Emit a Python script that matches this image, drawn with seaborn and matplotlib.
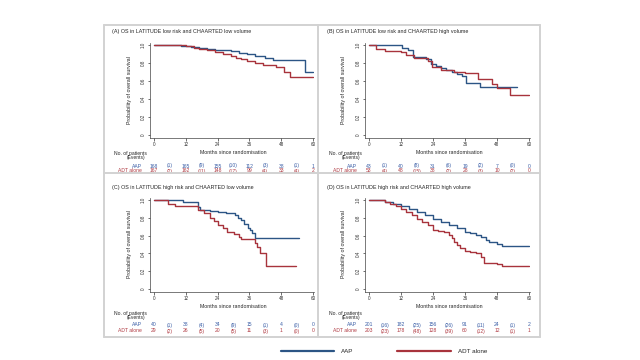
import numpy as np
import pandas as pd
import matplotlib
matplotlib.use("Agg")
import matplotlib.pyplot as plt
import matplotlib.transforms as mtransforms
from matplotlib.lines import Line2D
import seaborn as sns

# ---- survival curves (months, probability) ----
a_aap_t = [0, 6, 10, 14, 17, 20, 23, 26, 29, 32, 35, 38, 42, 45, 57, 60]
a_aap_s = [1.0, 0.998, 0.99, 0.98, 0.97, 0.96, 0.95, 0.94, 0.93, 0.915, 0.895, 0.88, 0.86, 0.835, 0.695, 0.695]
a_adt_t = [0, 6, 12, 15, 17, 20, 23, 26, 29, 31, 33, 35, 38, 41, 46, 49, 51.5, 60]
a_adt_s = [1.0, 0.995, 0.985, 0.97, 0.955, 0.94, 0.925, 0.905, 0.88, 0.86, 0.84, 0.82, 0.80, 0.775, 0.76, 0.70, 0.645, 0.645]

b_aap_t = [0, 12.5, 14.5, 16.5, 21.5, 23.4, 25, 27, 29, 31, 33, 35, 36.5, 41.5, 55.6]
b_aap_s = [1.0, 0.97, 0.94, 0.87, 0.84, 0.79, 0.77, 0.74, 0.72, 0.70, 0.68, 0.66, 0.58, 0.535, 0.535]
b_adt_t = [0, 2.8, 6, 12, 14, 17, 22, 23.5, 27, 32, 36, 41, 46, 48, 53, 60]
b_adt_s = [1.0, 0.96, 0.93, 0.92, 0.89, 0.86, 0.82, 0.76, 0.72, 0.705, 0.69, 0.62, 0.57, 0.52, 0.45, 0.45]

c_aap_t = [0, 11, 16.6, 17.2, 21, 24, 27.3, 30.4, 31.7, 33, 34, 35.5, 36.3, 37, 38, 54.7]
c_aap_s = [1.0, 0.975, 0.925, 0.89, 0.875, 0.86, 0.85, 0.83, 0.80, 0.77, 0.73, 0.69, 0.66, 0.63, 0.57, 0.57]
c_adt_t = [0, 5.3, 7.8, 16.6, 19, 21, 22.5, 24, 26, 27.5, 30, 32, 33, 38.3, 38.8, 40, 42.3, 53.7]
c_adt_s = [1.0, 0.96, 0.93, 0.89, 0.85, 0.80, 0.76, 0.72, 0.68, 0.64, 0.62, 0.58, 0.56, 0.52, 0.47, 0.40, 0.255, 0.255]

d_aap_t = [0, 3, 6, 9, 12, 15, 18, 21, 24, 27, 30, 33, 36, 38, 40, 42, 44, 45, 48, 50, 60]
d_aap_s = [1.0, 0.995, 0.98, 0.96, 0.93, 0.90, 0.87, 0.83, 0.79, 0.755, 0.72, 0.685, 0.645, 0.625, 0.61, 0.58, 0.55, 0.53, 0.505, 0.48, 0.48]
d_adt_t = [0, 3, 6, 8, 10, 12, 14, 16, 18, 20, 22, 24, 26, 28, 30, 31, 32, 33, 34, 36, 38, 40, 42, 43, 48, 50, 60]
d_adt_s = [1.0, 0.995, 0.975, 0.955, 0.93, 0.90, 0.865, 0.83, 0.79, 0.755, 0.72, 0.665, 0.65, 0.635, 0.61, 0.57, 0.53, 0.49, 0.465, 0.43, 0.415, 0.40, 0.36, 0.29, 0.28, 0.255, 0.255]

# ---- numbers at risk (months 0,12,...,60) and events in between ----
a_aap_risk = [168, 165, 155, 112, 38, 1]
a_aap_ev = [1, 9, 10, 3, 1]
a_adt_risk = [167, 162, 148, 99, 33, 2]
a_adt_ev = [2, 11, 17, 4, 4]
b_aap_risk = [43, 40, 31, 19, 7, 0]
b_aap_ev = [1, 8, 6, 2, 0]
b_adt_risk = [53, 48, 38, 28, 10, 0]
b_adt_ev = [4, 15, 2, 3, 2]
c_aap_risk = [40, 38, 34, 15, 4, 0]
c_aap_ev = [1, 4, 9, 1, 0]
c_adt_risk = [29, 26, 20, 11, 1, 0]
c_adt_ev = [2, 5, 5, 3, 0]
d_aap_risk = [201, 182, 156, 91, 24, 2]
d_aap_ev = [16, 25, 26, 11, 1]
d_adt_risk = [203, 178, 128, 60, 12, 1]
d_adt_ev = [23, 48, 39, 12, 1]

titles = ["(A) OS in LATITUDE low risk and CHAARTED low volume",
          "(B) OS in LATITUDE low risk and CHAARTED high volume",
          "(C) OS in LATITUDE high risk and CHAARTED low volume",
          "(D) OS in LATITUDE high risk and CHAARTED high volume"]
month_ticks = [0, 12, 24, 36, 48, 60]

BLUE = "#2c5585"
RED = "#a8333c"
BLUE_TXT = "#3a5ea6"
RED_TXT = "#b03a42"

W, H = 640, 360
sns.set_style("white")
plt.rcParams["font.family"] = ["Liberation Sans", "DejaVu Sans"]
fig = plt.figure(figsize=(6.4, 3.6), dpi=100)


def fy(p):
    return 1 - p / H


def place(x0, x60, y1, y0):
    pxm = (x60 - x0) / 60
    pyu = y0 - y1
    left = x0 - 1.5 * pxm
    right = x60 + 0.3 * pxm
    top = y1 - 0.02 * pyu
    bottom = y0 + 0.03 * pyu
    return [left / W, 1 - bottom / H, (right - left) / W, (bottom - top) / H]


panels = [
    dict(t=titles[0], pos=(154, 313, 45, 135), rows=(154, 158, 166, 171),
         aap=(a_aap_t, a_aap_s), adt=(a_adt_t, a_adt_s),
         rk=(a_aap_risk, a_aap_ev, a_adt_risk, a_adt_ev)),
    dict(t=titles[1], pos=(369, 529, 45, 135), rows=(154, 158, 166, 171),
         aap=(b_aap_t, b_aap_s), adt=(b_adt_t, b_adt_s),
         rk=(b_aap_risk, b_aap_ev, b_adt_risk, b_adt_ev)),
    dict(t=titles[2], pos=(154, 313, 200, 289), rows=(313, 317, 325, 331),
         aap=(c_aap_t, c_aap_s), adt=(c_adt_t, c_adt_s),
         rk=(c_aap_risk, c_aap_ev, c_adt_risk, c_adt_ev)),
    dict(t=titles[3], pos=(369, 529, 200, 289), rows=(313, 317, 325, 331),
         aap=(d_aap_t, d_aap_s), adt=(d_adt_t, d_adt_s),
         rk=(d_aap_risk, d_aap_ev, d_adt_risk, d_adt_ev)),
]

handles = [Line2D([], [], color=BLUE, lw=1.6), Line2D([], [], color=RED, lw=1.6)]
for p in panels:
    x0, x60, y1, y0 = p["pos"]
    ax = fig.add_axes(place(x0, x60, y1, y0))
    df = pd.concat([
        pd.DataFrame({"month": p["aap"][0], "surv": p["aap"][1], "arm": "AAP"}),
        pd.DataFrame({"month": p["adt"][0], "surv": p["adt"][1], "arm": "ADT alone"}),
    ])
    sns.lineplot(data=df, x="month", y="surv", hue="arm", estimator=None,
                 palette={"AAP": BLUE, "ADT alone": RED}, drawstyle="steps-post",
                 linewidth=1.0, legend=False, ax=ax)

    ax.set_xlim(-1.5, 60.3)
    ax.set_ylim(-0.03, 1.02)
    ax.set_xticks(month_ticks)
    ax.set_yticks([0, 0.2, 0.4, 0.6, 0.8, 1.0])
    ax.set_yticklabels(["0", "0.2", "0.4", "0.6", "0.8", "1.0"], rotation=90, va="center")
    ax.tick_params(labelsize=3.3, length=1.8, width=0.5, pad=1.5, colors="#333333",
                   left=True, bottom=True)
    for s in ["top", "right"]:
        ax.spines[s].set_visible(False)
    for s in ["left", "bottom"]:
        ax.spines[s].set_linewidth(0.5)
        ax.spines[s].set_color("#444444")
    ax.set_xlabel("")
    ax.set_ylabel("")
    ax.set_facecolor("none")

    # texts around the plot
    fig.text((x0 - 42) / W, fy(y1 - 13), p["t"], fontsize=3.9, va="center", ha="left")
    fig.text((x0 + x60) / 2 / W, fy(y0 + 17), "Months since randomisation",
             fontsize=3.8, ha="center", va="center")
    fig.text((x0 - 25) / W, fy((y0 + y1) / 2), "Probability of overall survival",
             fontsize=3.8, rotation=90, ha="center", va="center")

    # numbers at risk table
    tr = mtransforms.blended_transform_factory(ax.transData, fig.transFigure)
    r_head, r_ev, r_aap, r_adt = p["rows"]
    fig.text((x0 - 40) / W, fy(r_head), "No. of patients", fontsize=3.6, va="center")
    fig.text((x0 - 9) / W, fy(r_ev), "(Events)", fontsize=3.6, va="center", ha="right")
    fig.text((x0 - 12) / W, fy(r_aap), "AAP", fontsize=3.6, va="center", ha="right", color=BLUE_TXT)
    fig.text((x0 - 12) / W, fy(r_adt), "ADT alone", fontsize=3.6, va="center", ha="right", color=RED_TXT)
    risk_aap, ev_aap, risk_adt, ev_adt = p["rk"]
    for row, risk, ev, col in [(r_aap, risk_aap, ev_aap, BLUE_TXT), (r_adt, risk_adt, ev_adt, RED_TXT)]:
        for m, n in zip(month_ticks, risk):
            ax.text(m, fy(row), str(n), transform=tr, fontsize=3.6, ha="center", va="center",
                    color=col, clip_on=False)
        for m, e in zip(month_ticks[:-1], ev):
            ax.text(m + 6, fy(row), f"({e})", transform=tr, fontsize=3.6, ha="center",
                    va="center", color=col, clip_on=False)

# grey frame around the four panels
fc = "#d2d2d2"
for xs, ys in [([104, 540], [25, 25]), ([104, 540], [337, 337]), ([104, 104], [25, 337]),
               ([540, 540], [25, 337]), ([318, 318], [25, 337]), ([104, 540], [173, 173])]:
    fig.add_artist(Line2D([x / W for x in xs], [fy(y) for y in ys], color=fc, lw=1.4))

fig.legend(handles, ["AAP", "ADT alone"], loc="center", bbox_to_anchor=(384 / W, fy(351)),
           ncol=2, frameon=False, fontsize=4.5, handlelength=8.5, handletextpad=1.2,
           columnspacing=7)

fig.savefig("out.png", dpi=100)
